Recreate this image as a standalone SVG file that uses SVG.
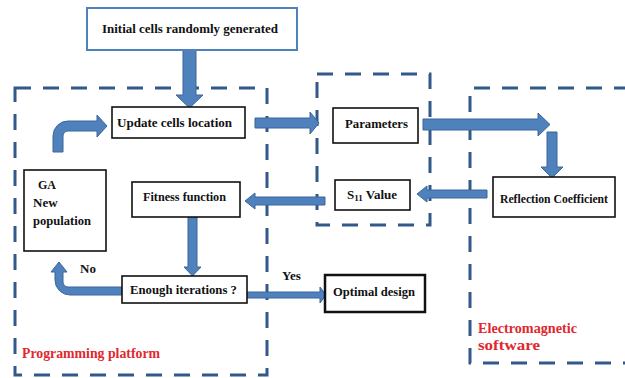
<svg xmlns="http://www.w3.org/2000/svg" width="625" height="378" viewBox="0 0 625 378">
  <style>
    .lbl { font-family: "Liberation Serif", "Times New Roman", serif; font-weight: bold; font-size: 13px; fill: #111; }
    .red { font-family: "Liberation Serif", "Times New Roman", serif; font-weight: bold; font-size: 14px; fill: #e0282e; }
    .box { fill: #fff; stroke: #111; stroke-width: 1.6; }
    .zone { fill: none; stroke: #33588a; stroke-width: 3; stroke-dasharray: 16 12; }
    .arrow { fill: #4f81bd; stroke: #3b6699; stroke-width: 1; stroke-linejoin: round; }
  </style>

  <rect width="625" height="378" fill="#ffffff"/>

  <!-- dashed zones -->
  <g id="zones">
    <rect class="zone" x="15" y="88" width="252" height="287"/>
    <rect class="zone" x="317" y="74" width="113" height="151"/>
    <path class="zone" d="M630,88 H470 V363 H630"/>
  </g>

  <!-- block arrows -->
  <g id="connectors">
    <!-- start -> update -->
    <path class="arrow" d="M183,50 H196 V95 H203 L189.5,108 L176,95 H183 Z"/>
    <!-- new population -> update (bent) -->
    <path class="arrow" d="M53,152 V136 A15,15 0 0 1 68,121 H97 V115 L107,126 L97,137 V131 H68 A5,5 0 0 0 63,136 V152 Z"/>
    <!-- update -> parameters -->
    <path class="arrow" d="M255,118 H310 V112 L319,123 L310,134 V128 H255 Z"/>
    <!-- parameters -> EM software -->
    <path class="arrow" d="M423,119 H538 V113 L550,124.5 L538,136 V130 H423 Z"/>
    <!-- down to reflection coefficient -->
    <path class="arrow" d="M547,132 H557 V167 H563 L552,178 L541,167 H547 Z"/>
    <!-- reflection coefficient -> S11 -->
    <path class="arrow" d="M487,190 V198 H427 V202 L417,194 L427,186 V190 Z"/>
    <!-- S11 -> fitness -->
    <path class="arrow" d="M325,197 V205 H255 V209 L245,201 L255,193 V197 Z"/>
    <!-- fitness -> enough iterations -->
    <path class="arrow" d="M188,217 H197 V267 H201 L192.5,276 L184,267 H188 Z"/>
    <!-- No: back to new population -->
    <path class="arrow" d="M122,287 H68 A5,5 0 0 1 63,282 V272 H67 L59,262 L51,272 H55 V280 A15,15 0 0 0 70,295 H122 Z"/>
    <!-- Yes: to optimal design -->
    <path class="arrow" d="M247,292 H320 V287 L326,295 L320,303 V298 H247 Z"/>
  </g>

  <g id="start">
    <rect x="87" y="8" width="210" height="42" fill="#fff" stroke="#4f81bd" stroke-width="2"/>
    <text class="lbl" x="102" y="33" textLength="176" lengthAdjust="spacingAndGlyphs">Initial cells  randomly generated</text>
  </g>

  <g id="update">
    <rect class="box" x="112" y="107" width="133" height="31"/>
    <text class="lbl" x="117" y="127" textLength="115" lengthAdjust="spacingAndGlyphs">Update cells location</text>
  </g>

  <g id="parameters">
    <rect class="box" x="333" y="108" width="85" height="35"/>
    <text class="lbl" x="345" y="128" textLength="63" lengthAdjust="spacingAndGlyphs">Parameters</text>
  </g>

  <g id="reflection">
    <rect class="box" x="493" y="177" width="122" height="40"/>
    <text class="lbl" x="500" y="203" style="font-size:11.5px" textLength="108" lengthAdjust="spacingAndGlyphs">Reflection Coefficient</text>
  </g>

  <g id="s11">
    <rect class="box" x="335" y="180" width="75" height="30"/>
    <text class="lbl" x="347" y="199">S<tspan font-size="9" dy="2">11</tspan><tspan dy="-2"> Value</tspan></text>
  </g>

  <g id="fitness">
    <rect class="box" x="132" y="182" width="108" height="35"/>
    <text class="lbl" x="143" y="201" textLength="83" lengthAdjust="spacingAndGlyphs">Fitness function</text>
  </g>

  <g id="population">
    <rect class="box" x="24" y="170" width="82" height="81"/>
    <text class="lbl" x="38" y="189" style="font-size:12px">GA</text>
    <text class="lbl" x="33" y="207">New</text>
    <text class="lbl" x="33" y="225" textLength="58" lengthAdjust="spacingAndGlyphs">population</text>
  </g>

  <g id="iterations">
    <rect class="box" x="122" y="276" width="125" height="27"/>
    <text class="lbl" x="130" y="294" textLength="107" lengthAdjust="spacingAndGlyphs">Enough iterations ?</text>
  </g>

  <g id="optimal">
    <rect x="325" y="275" width="100" height="37" fill="#fff" stroke="#111" stroke-width="2.5"/>
    <text class="lbl" x="333" y="296" textLength="82" lengthAdjust="spacingAndGlyphs">Optimal design</text>
  </g>

  <g id="edge-labels">
    <text class="lbl" x="80" y="273">No</text>
    <text class="lbl" x="282" y="280">Yes</text>
  </g>

  <g id="zone-labels">
    <text class="red" x="22" y="358" textLength="138" lengthAdjust="spacingAndGlyphs">Programming platform</text>
    <text class="red" x="478" y="333" textLength="99" lengthAdjust="spacingAndGlyphs">Electromagnetic</text>
    <text class="red" x="478" y="350" textLength="62" lengthAdjust="spacingAndGlyphs">software</text>
  </g>
</svg>
